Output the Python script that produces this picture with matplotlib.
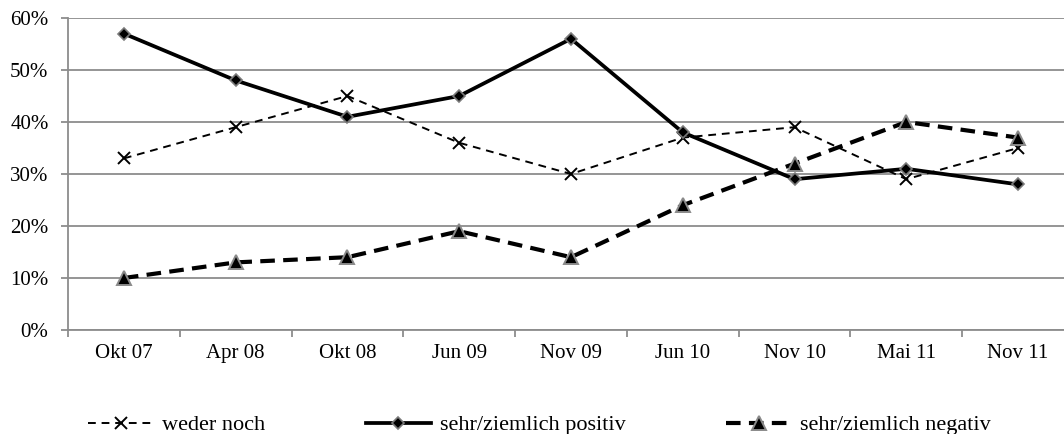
import matplotlib
matplotlib.use("Agg")
import matplotlib.pyplot as plt
from matplotlib.ticker import FixedLocator, FuncFormatter, NullFormatter

plt.rcParams["font.family"] = ["Liberation Serif", "DejaVu Serif"]
plt.rcParams["font.size"] = 15

# Umfragezeitpunkte und Anteile in Prozent
waves = ["Okt 07", "Apr 08", "Okt 08", "Jun 09", "Nov 09", "Jun 10", "Nov 10", "Mai 11", "Nov 11"]
weder_noch = [33, 39, 45, 36, 30, 37, 39, 29, 35]
positiv = [57, 48, 41, 45, 56, 38, 29, 31, 28]
negativ = [10, 13, 14, 19, 14, 24, 32, 40, 37]

GRID = "#8c8c8c"

fig = plt.figure(figsize=(10.64, 4.34), dpi=100)
ax = fig.add_axes([68 / 1064, 104 / 434, 1006 / 1064, 312 / 434])

x = list(range(len(waves)))
ax.plot(x, weder_noch, color="black", lw=1.4, ls=(0, (4, 3)),
        marker="x", ms=8, mew=1.4, label="weder noch", zorder=3)
ax.plot(x, positiv, color="black", lw=2.7, ls="-",
        marker="D", ms=6, mfc="black", mec="#7a7a7a", mew=1.2,
        label="sehr/ziemlich positiv", zorder=4)
ax.plot(x, negativ, color="black", lw=3.0, ls=(0, (3.5, 2)),
        marker="^", ms=10, mfc="black", mec="#8a8a8a", mew=1.4,
        label="sehr/ziemlich negativ", zorder=5)

ax.set_xlim(-0.5, len(waves) - 0.5)
ax.set_ylim(0, 60)

ax.yaxis.set_major_locator(FixedLocator(range(0, 61, 10)))
ax.yaxis.set_major_formatter(FuncFormatter(lambda v, _: f"{v:.0f}%"))
ax.grid(axis="y", color=GRID, lw=1.3)
ax.set_axisbelow(True)

# Kategorien mittig, Striche an den Grenzen
ax.set_xticks([i + 0.5 for i in range(-1, len(waves))])
ax.xaxis.set_major_formatter(NullFormatter())
ax.set_xticks(x, minor=True)
ax.set_xticklabels(waves, minor=True)
ax.tick_params(axis="x", which="major", length=5, color=GRID, width=1.3)
ax.tick_params(axis="x", which="minor", length=0, pad=10)
ax.tick_params(axis="y", length=5, color=GRID, width=1.3, pad=9)

for side in ("top", "right"):
    ax.spines[side].set_visible(False)
for side in ("left", "bottom"):
    ax.spines[side].set_color(GRID)
    ax.spines[side].set_linewidth(1.3)

fig.legend(loc="center left", bbox_to_anchor=(88 / 1064, 9 / 434), ncol=3,
           frameon=False, fontsize=16, handlelength=2.95, handletextpad=0.4,
           columnspacing=4.5, numpoints=1, borderpad=0, borderaxespad=0)

fig.savefig("out.png", dpi=100)
